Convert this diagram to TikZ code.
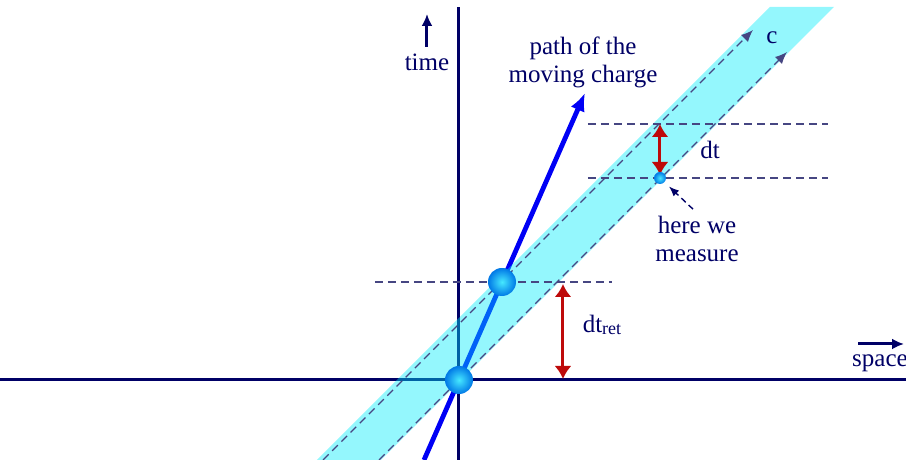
\documentclass[tikz,border=0pt]{standalone}
\usepackage{fontspec}
\setmainfont{Liberation Serif}
\usetikzlibrary{arrows.meta}

\definecolor{axisnavy}{RGB}{0,0,102}
\definecolor{conecyan}{RGB}{0,235,250}
\definecolor{guidegray}{RGB}{70,70,130}
\definecolor{intervalred}{RGB}{190,10,10}
\definecolor{pathblue}{RGB}{0,0,245}

\tikzset{
  sphere/.style={circle, inner sep=0pt, minimum size=#1, shading=radial,
    inner color={rgb,255:red,70;green,232;blue,255},
    outer color={rgb,255:red,0;green,120;blue,230}},
  guide/.style={guidegray, line width=0.7pt, dash pattern=on 4pt off 2.5pt},
  interval/.style={intervalred, line width=1.5pt,
    {Latex[length=6.5pt,width=8.5pt]}-{Latex[length=6.5pt,width=8.5pt]}},
  lbl/.style={text=axisnavy, font=\fontsize{12.5}{14}\selectfont, align=center}
}

\begin{document}
\begin{tikzpicture}[x=0.5pt, y=0.5pt]
\useasboundingbox (-459,-80) rectangle (447,380);

% Axes
\draw[axisnavy, line width=1.5pt] (-459,0) -- (447,0);
\draw[axisnavy, line width=1.5pt] (0,-80) -- (0,373);

% Path of the charge
\coordinate (pathstart) at (-35,-80);
\coordinate (pathend) at (126,287);
\draw[pathblue, line width=2.4pt, -{Latex[length=9pt,width=7.5pt]}] (pathstart) -- (pathend);

% Light cone band
\fill[conecyan, fill opacity=0.42] (-142,-80) -- (-78,-80) -- (375,373) -- (311,373) -- cycle;

% Light signals
\coordinate (ctail1) at (-136,-80);
\coordinate (chead1) at (294,350);
\coordinate (ctail2) at (-80,-80);
\coordinate (chead2) at (328,328);
\draw[guide, -{Latex[length=6pt,width=5pt]}] (ctail1) -- (chead1);
\draw[guide, -{Latex[length=6pt,width=5pt]}] (ctail2) -- (chead2);
\node[lbl] (clabel) at (313,342) {c};

% Time levels
\draw[guide] (-84,98) -- (153,98);
\draw[guide] (129,256) -- (369,256);
\draw[guide] (129,202) -- (369,202);

% Intervals
\coordinate (rettop) at (104,96);
\coordinate (retbot) at (104,1);
\coordinate (dttop) at (201,256);
\coordinate (dtbot) at (201,205);
\draw[interval] (rettop) -- (retbot);
\draw[interval] (dttop) -- (dtbot);
\node[lbl] (dtlabel) at (251,230) {dt};
\node[lbl] (dtretlabel) at (143,55) {dt\raisebox{-0.2ex}{\fontsize{9}{9}\selectfont ret}};

% Events
\node[sphere=14pt] (origin) at (0,0) {};
\node[sphere=14pt] (emit) at (43,98) {};
\node[sphere=6pt] (probe) at (201,202) {};

% Measuring point
\node[lbl] (measure) at (238,141) {here we\\measure};
\draw[axisnavy, line width=0.7pt, dash pattern=on 3pt off 2pt,
  -{Latex[length=5pt,width=4pt]}, shorten >=3pt] ([xshift=-2pt]measure.north) -- (probe);

% Axis labels
\node[lbl] (pathlabel) at (124,318) {path of the\\moving charge};
\node[lbl] (timelabel) at (-32,318) {time};
\coordinate (timetip) at (-32,366);
\draw[axisnavy, line width=1.5pt, -{Latex[length=6pt,width=5.5pt]}] (timelabel.north) -- (timetip);
\node[lbl] (spacelabel) at (421,17) {space};
\coordinate (spacetail) at (399,36);
\coordinate (spacetip) at (445,36);
\draw[axisnavy, line width=1.5pt, -{Latex[length=6pt,width=5.5pt]}] (spacetail) -- (spacetip);

\end{tikzpicture}
\end{document}
